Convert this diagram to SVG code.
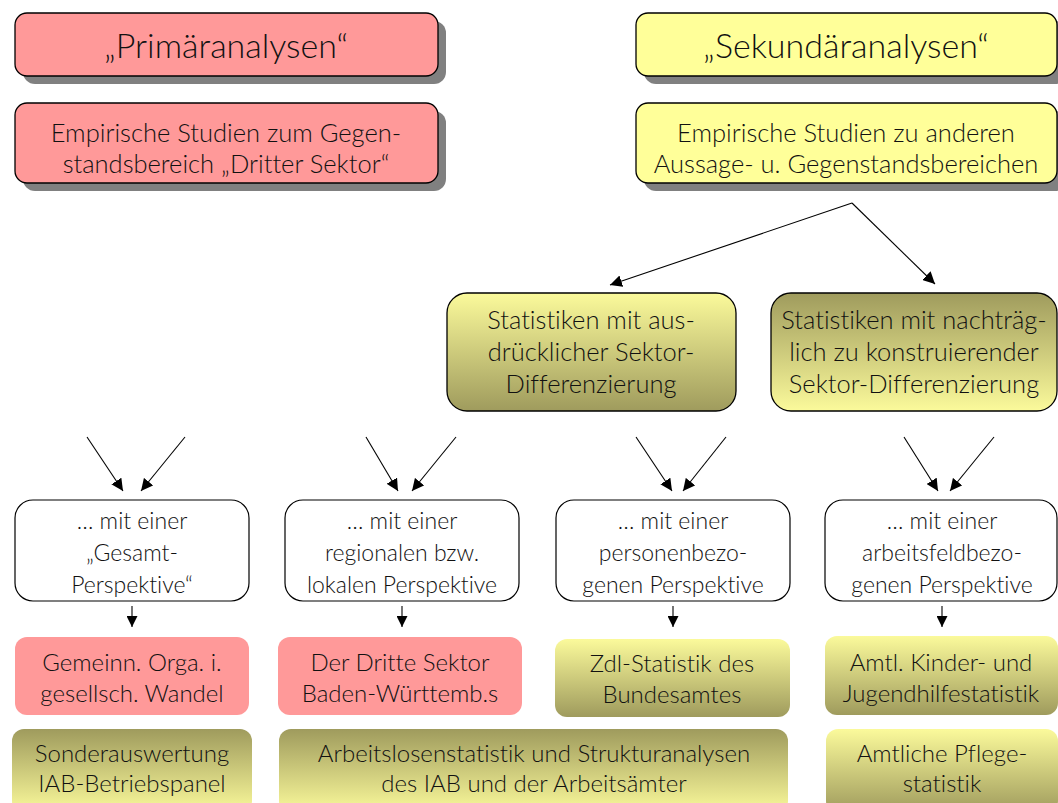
<svg xmlns="http://www.w3.org/2000/svg" width="1058" height="803" viewBox="0 0 1058 803">
<defs>
<linearGradient id="gLD" x1="0" y1="0" x2="0" y2="1"><stop offset="0" stop-color="#fbfa9b"/><stop offset="1" stop-color="#9f9b5d"/></linearGradient>
<linearGradient id="gDL" x1="0" y1="0" x2="0" y2="1"><stop offset="0" stop-color="#9f9b5d"/><stop offset="1" stop-color="#fbfa9b"/></linearGradient>
<marker id="ah" viewBox="0 0 10 10" refX="10" refY="5" markerWidth="12" markerHeight="12" markerUnits="userSpaceOnUse" orient="auto"><path d="M0,0 L10,5 L0,10 z" fill="#000"/></marker>
<marker id="ahs" viewBox="0 0 10 10" refX="10" refY="5" markerWidth="11" markerHeight="11" markerUnits="userSpaceOnUse" orient="auto"><path d="M0,0 L10,5 L0,10 z" fill="#000"/></marker>
</defs>
<style>
text{font-family:"Lato Light",Lato,"Liberation Sans",sans-serif;font-weight:300;font-variant-ligatures:none;fill:#111;text-anchor:middle}
.h{font-size:34px}
.t{font-size:25.5px}
.p{font-size:23px}
.b{font-size:24px}
.sh{fill:#808080}
.top{stroke:#000;stroke-width:1.3}
.mid{stroke:#000;stroke-width:1.3}
.per{fill:#fff;stroke:#000;stroke-width:1.2}
.pink{fill:#ff9999}
.cn{stroke:#000;stroke-width:1.1;fill:none}
</style>
<g id="primaer">
<rect class="sh" x="23" y="21" width="423" height="63" rx="12"/>
<rect class="top" x="15" y="13" width="423" height="63" rx="12" fill="#ff9999"/>
<text class="h" x="226" y="58">„Primäranalysen“</text>
</g>
<g id="primaer-studien">
<rect class="sh" x="23" y="111" width="423" height="80" rx="12"/>
<rect class="top" x="15" y="103" width="423" height="80" rx="12" fill="#ff9999"/>
<text class="t" x="226" y="142">Empirische Studien zum Gegen-</text>
<text class="t" x="226" y="173">standsbereich „Dritter Sektor“</text>
</g>
<g id="sekundaer">
<rect class="sh" x="644" y="21" width="423" height="63" rx="12"/>
<rect class="top" x="636" y="13" width="421" height="63" rx="12" fill="#ffff99"/>
<text class="h" x="846" y="58">„Sekundäranalysen“</text>
</g>
<g id="sekundaer-studien">
<rect class="sh" x="644" y="111" width="423" height="80" rx="12"/>
<rect class="top" x="636" y="103" width="421" height="80" rx="12" fill="#ffff99"/>
<text class="t" x="846" y="142">Empirische Studien zu anderen</text>
<text class="t" x="846" y="173">Aussage- u. Gegenstandsbereichen</text>
</g>
<g id="stat-ausdruecklich">
<rect class="mid" x="447" y="293" width="289" height="118" rx="20" fill="url(#gLD)"/>
<text class="t" x="591" y="329">Statistiken mit aus-</text>
<text class="t" x="591" y="361">drücklicher Sektor-</text>
<text class="t" x="591" y="393">Differenzierung</text>
</g>
<g id="stat-nachtraeglich">
<rect class="mid" x="771" y="293" width="286" height="118" rx="20" fill="url(#gDL)"/>
<text class="t" x="914" y="329">Statistiken mit nachträg-</text>
<text class="t" x="914" y="361">lich zu konstruierender</text>
<text class="t" x="914" y="393">Sektor-Differenzierung</text>
</g>
<g id="persp-gesamt">
<rect class="per" x="15" y="500" width="234" height="101" rx="18"/>
<text class="p" x="132" y="529">… mit einer</text>
<text class="p" x="132" y="561">„Gesamt-</text>
<text class="p" x="132" y="593">Perspektive“</text>
</g>
<g id="persp-regional">
<rect class="per" x="285" y="500" width="234" height="101" rx="18"/>
<text class="p" x="402" y="529">… mit einer</text>
<text class="p" x="402" y="561">regionalen bzw.</text>
<text class="p" x="402" y="593">lokalen Perspektive</text>
</g>
<g id="persp-personen">
<rect class="per" x="556" y="500" width="234" height="101" rx="18"/>
<text class="p" x="673" y="529">… mit einer</text>
<text class="p" x="673" y="561">personenbezo-</text>
<text class="p" x="673" y="593">genen Perspektive</text>
</g>
<g id="persp-arbeitsfeld">
<rect class="per" x="825" y="500" width="232" height="101" rx="18"/>
<text class="p" x="942" y="529">… mit einer</text>
<text class="p" x="942" y="561">arbeitsfeldbezo-</text>
<text class="p" x="942" y="593">genen Perspektive</text>
</g>
<g id="gemeinn">
<rect class="pink" x="15" y="637" width="234" height="78" rx="12"/>
<text class="b" x="132" y="671">Gemeinn. Orga. i.</text>
<text class="b" x="132" y="702">gesellsch. Wandel</text>
</g>
<g id="dritte-sektor-bw">
<rect class="pink" x="278" y="637" width="244" height="78" rx="12"/>
<text class="b" x="400" y="671">Der Dritte Sektor</text>
<text class="b" x="400" y="702">Baden-Württemb.s</text>
</g>
<g id="zdl">
<rect x="555" y="639" width="235" height="78" rx="12" fill="url(#gLD)"/>
<text class="b" x="672" y="672">Zdl-Statistik des</text>
<text class="b" x="672" y="703">Bundesamtes</text>
</g>
<g id="kjh">
<rect x="825" y="636" width="233" height="79" rx="12" fill="url(#gLD)"/>
<text class="b" x="941" y="671">Amtl. Kinder- und</text>
<text class="b" x="941" y="702">Jugendhilfestatistik</text>
</g>
<g id="iab-betriebspanel">
<rect x="12" y="729" width="240" height="84" rx="12" fill="url(#gDL)"/>
<text class="b" x="132" y="762">Sonderauswertung</text>
<text class="b" x="132" y="792">IAB-Betriebspanel</text>
</g>
<g id="arbeitslosen">
<rect x="279" y="729" width="509" height="84" rx="12" fill="url(#gDL)"/>
<text class="b" x="534" y="762">Arbeitslosenstatistik und Strukturanalysen</text>
<text class="b" x="534" y="792">des IAB und der Arbeitsämter</text>
</g>
<g id="pflege">
<rect x="826" y="729" width="232" height="84" rx="12" fill="url(#gLD)"/>
<text class="b" x="942" y="762">Amtliche Pflege-</text>
<text class="b" x="942" y="792">statistik</text>
</g>
<g id="connectors">
<line class="cn" x1="852" y1="203" x2="610" y2="285" marker-end="url(#ah)"/>
<line class="cn" x1="852" y1="203" x2="935" y2="284" marker-end="url(#ah)"/>
<line class="cn" x1="87" y1="437" x2="123" y2="491" marker-end="url(#ah)"/>
<line class="cn" x1="185" y1="437" x2="141" y2="491" marker-end="url(#ah)"/>
<line class="cn" x1="366" y1="437" x2="398" y2="491" marker-end="url(#ah)"/>
<line class="cn" x1="456" y1="437" x2="412" y2="491" marker-end="url(#ah)"/>
<line class="cn" x1="636" y1="437" x2="672" y2="491" marker-end="url(#ah)"/>
<line class="cn" x1="726" y1="437" x2="683" y2="491" marker-end="url(#ah)"/>
<line class="cn" x1="904" y1="437" x2="938" y2="491" marker-end="url(#ah)"/>
<line class="cn" x1="994" y1="437" x2="950" y2="491" marker-end="url(#ah)"/>
<line class="cn" x1="132" y1="606" x2="132" y2="627" marker-end="url(#ahs)"/>
<line class="cn" x1="402" y1="606" x2="402" y2="627" marker-end="url(#ahs)"/>
<line class="cn" x1="673" y1="606" x2="673" y2="627" marker-end="url(#ahs)"/>
<line class="cn" x1="942" y1="606" x2="942" y2="627" marker-end="url(#ahs)"/>
</g>
</svg>
